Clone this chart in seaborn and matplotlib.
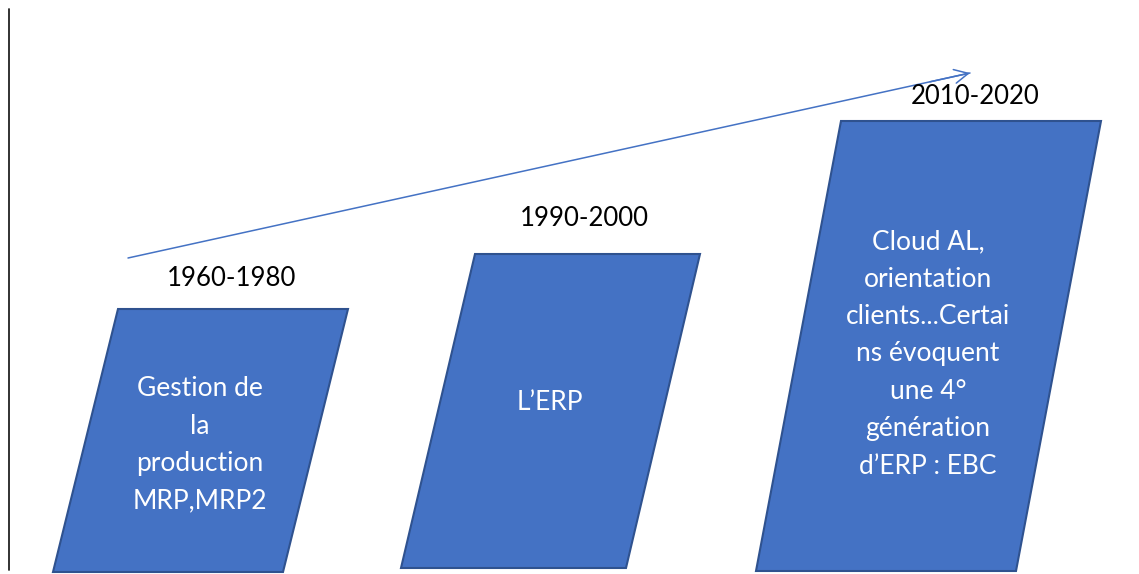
import matplotlib
matplotlib.use("Agg")
import matplotlib.pyplot as plt
import seaborn as sns
import pandas as pd

# ---- data ----
periods = ["1960-1980", "1990-2000", "2010-2020"]
descriptions = [
    "Gestion de\nla\nproduction\nMRP,MRP2",
    "L\u2019ERP",
    "Cloud AL,\norientation\nclients...Certai\nns \u00e9voquent\nune 4\u00b0\ng\u00e9n\u00e9ration\nd\u2019ERP : EBC",
]
stage_top = [265, 320, 453]          # height of each stage block (px-like units)
stage_bottom = [2, 6, 3]
trend_x = [128, 970]                 # rising trend arrow
trend_y = [316, 501]

# ---- layout (styles / geometry) ----
bottom_left = [53, 401, 756]
bottom_width = [230, 225, 260]
skew = [65, 74, 85]
label_xy = [(232, 296), (584, 356), (975, 477)]
text_xy = [(200, 129), (550, 172), (928, 220)]

fill = "#4472C4"
edge = "#2F528F"

sns.set_theme(style="white")
plt.rcParams["font.family"] = ["Lato", "DejaVu Sans"]

fig = plt.figure(figsize=(11.39, 5.74), dpi=100)
ax = fig.add_axes([0, 0, 1, 1])
ax.set_xlim(0, 1139)
ax.set_ylim(0, 574)
ax.axis("off")

# left vertical line
ax.plot([9, 9], [4, 565], color="#222222", lw=1.3)

for i in range(len(periods)):
    bl = bottom_left[i]
    w = bottom_width[i]
    s = skew[i]
    b = stage_bottom[i]
    t = stage_top[i]
    xs = [bl, bl + w, bl + w + s, bl + s]
    ys = [b, b, t, t]
    ax.fill(xs, ys, facecolor=fill, edgecolor=edge, lw=1.5)
    ax.text(*label_xy[i], periods[i], ha="center", va="center",
            fontsize=18.5, color="black")
    ax.text(*text_xy[i], descriptions[i], ha="center", va="center",
            fontsize=19, color="white", linespacing=1.62)

# trend arrow
trend = pd.DataFrame({"x": trend_x, "y": trend_y})
sns.lineplot(data=trend, x="x", y="y", ax=ax, color=fill, lw=1.1)
ax.annotate("", xy=(trend_x[1], trend_y[1]),
            xytext=(trend_x[1] - 40, trend_y[1] - 8.8),
            arrowprops=dict(arrowstyle="->", color=fill, lw=1.1,
                            mutation_scale=25, shrinkA=0, shrinkB=0))
ax.set_xlabel("")
ax.set_ylabel("")

fig.savefig("out.png", dpi=100)
